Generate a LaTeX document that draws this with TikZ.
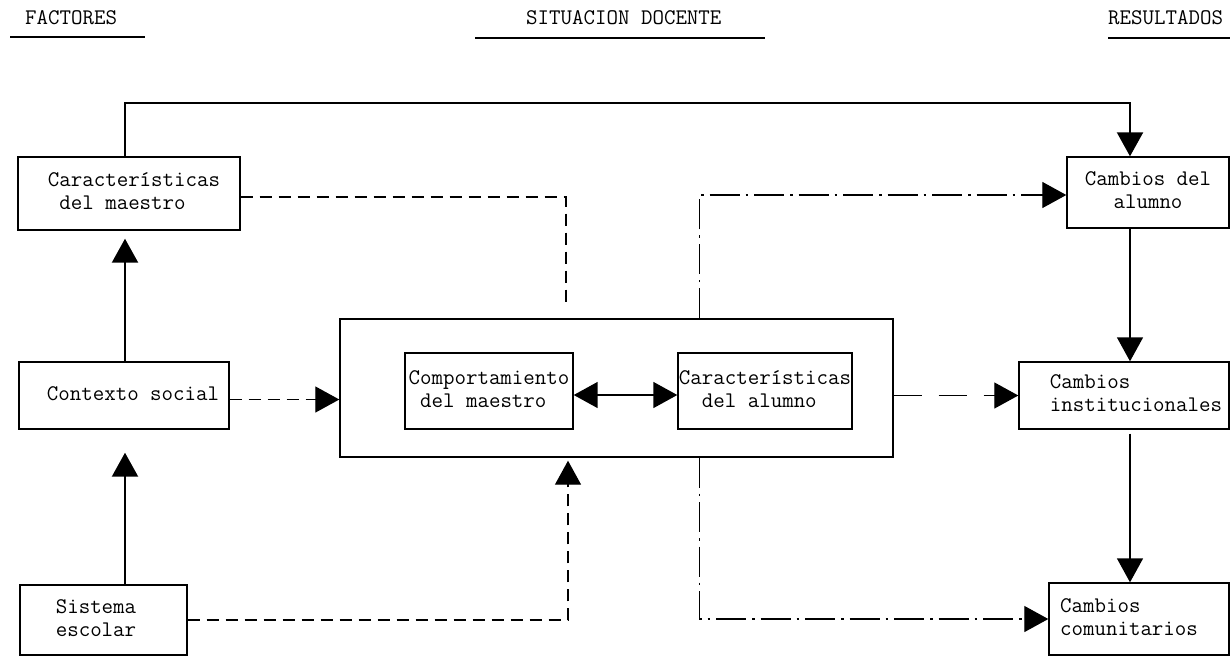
\documentclass[tikz,border=0pt]{standalone}
\usepackage{fontspec}
\usetikzlibrary{arrows.meta}
\newcommand\boxtext[3]{\hspace*{#1}\begin{tabular}{@{}l@{}}#3\end{tabular}\hspace*{#2}}
\begin{document}
\begin{tikzpicture}[x=1pt,y=-1pt,
  every node/.style={font=\fontsize{22.3}{23}\selectfont\ttfamily},
  blk/.style={draw, line width=1.4pt, inner sep=0pt},
  hdr/.style={anchor=base west, inner sep=0pt},
  ul/.style={line width=1.3pt},
  tri/.style={-{Triangle[length=24pt,width=26pt]}},
  dbl/.style={{Triangle[length=24pt,width=26pt]}-{Triangle[length=24pt,width=26pt]}},
  solidA/.style={line width=2.2pt},
  solidB/.style={line width=1.5pt},
  dsh/.style={line width=1.3pt, dash pattern=on 12pt off 7pt},
  dshlong/.style={line width=1.3pt, dash pattern=on 28pt off 17pt},
  dd/.style={line width=1.3pt, dash pattern=on 30pt off 6pt on 2.5pt off 6pt}
]
\path[fill=white] (0,0) rectangle (1230,657);
\useasboundingbox (0,0) rectangle (1230,657);

% headers
\node[hdr] (hf) at (25,24) {FACTORES};
\node[hdr] (hs) at (526,24) {SITUACION DOCENTE};
\node[hdr] (hr) at (1108,24) {RESULTADOS};
\draw[ul] (10,37) -- (145,37);
\draw[ul] (475,38) -- (765,38);
\draw[ul] (1108,38) -- (1230,38);

% helper coordinates
\coordinate (lx) at (125,0);
\coordinate (rx) at (1130,0);
\coordinate (topy) at (0,103);
\coordinate (bx) at (568,0);
\coordinate (cmend) at (566,308);

% boxes
\node[blk, minimum width=222pt, minimum height=73pt] (cm) at (129,193.5)
  {\boxtext{10pt}{0pt}{Características\\\hspace*{11.5pt}del maestro}};
\node[blk, minimum width=210pt, minimum height=67pt] (cx) at (124,395.5)
  {\boxtext{18pt}{0pt}{Contexto social}};
\node[blk, minimum width=167pt, minimum height=70pt] (se) at (103.5,620)
  {\boxtext{0pt}{15pt}{Sistema\\escolar}};
\node[blk, minimum width=553pt, minimum height=138pt] (big) at (616.5,388) {};
\node[blk, minimum width=168pt, minimum height=76pt] (cp) at (489,391)
  {\boxtext{0pt}{0pt}{Comportamiento\\\hspace*{11.5pt}del maestro}};
\node[blk, minimum width=174pt, minimum height=76pt] (ca2) at (765,391)
  {\boxtext{0pt}{0pt}{Características\\\hspace*{23pt}del alumno}};
\node[blk, minimum width=162pt, minimum height=71pt] (ca) at (1148,192.5)
  {\begin{tabular}{@{}c@{}}Cambios del\\alumno\end{tabular}};
\node[blk, minimum width=210pt, minimum height=67pt] (ci) at (1124,395.5)
  {\boxtext{24pt}{0pt}{Cambios\\institucionales}};
\node[blk, minimum width=180pt, minimum height=72pt] (cc) at (1139,619)
  {\boxtext{0pt}{20pt}{Cambios\\comunitarios}};

% solid connectors
\draw[solidA, tri] (cm.north -| lx) |- (rx |- topy) -- (ca.north -| rx);
\draw[solidA, tri, shorten >=8pt] (cx.north -| lx) -- (cm.south -| lx);
\draw[solidA, tri, shorten >=23pt] (se.north -| lx) -- (cx.south -| lx);
\draw[solidB, dbl] ([yshift=-4pt]cp.east) -- ([yshift=-4pt]ca2.west);
\draw[solidB, tri] (ca.south -| rx) -- (ci.north -| rx);
\draw[solidB, tri, shorten <=4pt] (ci.south -| rx) -- (cc.north -| rx);

% dashed connectors
\draw[dsh] ([yshift=-3.5pt]cm.east) -| (cmend);
\draw[dsh, tri] ([yshift=-4pt]cx.east) -- ([yshift=-4pt]cx.east -| big.west);
\draw[dsh, tri, shorten >=3pt] (se.east) -| (big.south -| bx);
\draw[dshlong, tri] (ci.west -| big.east) -- (ci.west);

% dash-dot connectors
\draw[dd, tri] ([xshift=360pt]big.north west) |- ([yshift=-2.5pt]ca.west);
\draw[dd, tri] ([xshift=360pt]big.south west) |- (cc.west);
\end{tikzpicture}
\end{document}
